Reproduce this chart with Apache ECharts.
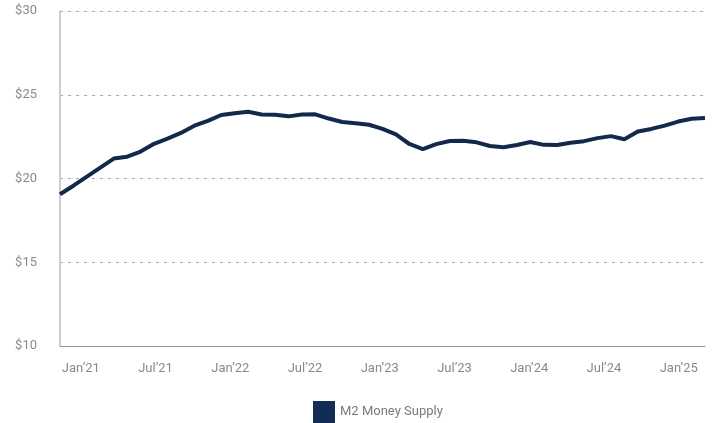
<!DOCTYPE html>
<html>
<head>
<meta charset="utf-8">
<script src="https://cdn.jsdelivr.net/npm/echarts@6/dist/echarts.min.js"></script>
<style>
html, body { margin: 0; padding: 0; background: #fff; }
#main { width: 724px; height: 423px; }
</style>
</head>
<body>
<div id="main"></div>
<script>
// monthly points, Jan'21 .. Jan'25
var months = [];
for (var y = 21; y <= 25; y++) {
    ['01','02','03','04','05','06','07','08','09','10','11','12'].forEach(function (m) {
        if (y < 25 || m === '01') months.push('20' + y + '-' + m);
    });
}
var m2Supply = [
    19.06, 19.57, 20.11, 20.65, 21.19, 21.30, 21.61, 22.07, 22.38, 22.72,
    23.15, 23.44, 23.79, 23.90, 23.98, 23.82, 23.81, 23.71, 23.82, 23.83,
    23.58, 23.37, 23.30, 23.21, 22.96, 22.63, 22.06, 21.76, 22.05, 22.24,
    22.26, 22.16, 21.94, 21.86, 22.00, 22.18, 22.01, 22.00, 22.14, 22.23,
    22.41, 22.53, 22.34, 22.81, 22.96, 23.16, 23.40, 23.57, 23.61
];
var tickLabels = ['Jan’21', 'Jul’21', 'Jan’22', 'Jul’22', 'Jan’23', 'Jul’23', 'Jan’24', 'Jul’24', 'Jan’25'];
var tickMonths = [0, 6, 12, 18, 24, 30, 36, 42, 48];

var font = 'Roboto, "Noto Sans", sans-serif';
var myChart = echarts.init(document.getElementById('main'));
var option = {
    animation: false,
    grid: { left: 60, right: 19, top: 11, bottom: 77, containLabel: false },
    legend: {
        top: 396,
        left: 308,
        itemWidth: 22,
        itemHeight: 22,
        icon: 'rect',
        textStyle: { color: '#7a7a7a', fontSize: 13, fontFamily: font },
        data: ['M2 Money Supply']
    },
    xAxis: [{
        type: 'category',
        data: months,
        boundaryGap: false,
        position: 'bottom',
        axisLine: { lineStyle: { color: '#9a9a9a', width: 1 } },
        axisTick: { show: false },
        axisLabel: { show: false }
    }, {
        // label axis, in months from Jan'21
        type: 'value',
        position: 'bottom',
        min: -1.67,
        max: 50.11,
        axisLine: { show: false },
        axisTick: { show: false },
        splitLine: { show: false },
        axisLabel: {
            customValues: tickMonths,
            margin: 16,
            color: '#8a8a8a',
            fontSize: 13,
            fontFamily: font,
            formatter: function (v) {
                return tickLabels[tickMonths.indexOf(v)];
            }
        }
    }],
    yAxis: {
        type: 'value',
        min: 10,
        max: 30,
        interval: 5,
        axisLine: { show: true, onZero: false, lineStyle: { color: '#bdbdbd', width: 1.5 } },
        axisTick: { show: false },
        axisLabel: {
            margin: 23,
            color: '#8a8a8a',
            fontSize: 13,
            fontFamily: font,
            formatter: function (v) { return '$' + v; }
        },
        splitLine: { lineStyle: { color: '#a8a8a8', type: [3, 5], width: 1 } }
    },
    series: [{
        name: 'M2 Money Supply',
        type: 'line',
        xAxisIndex: 0,
        data: m2Supply,
        showSymbol: false,
        symbol: 'none',
        lineStyle: { color: '#13294b', width: 4 },
        itemStyle: { color: '#112d55' }
    }]
};
myChart.setOption(option, true);
</script>
</body>
</html>
